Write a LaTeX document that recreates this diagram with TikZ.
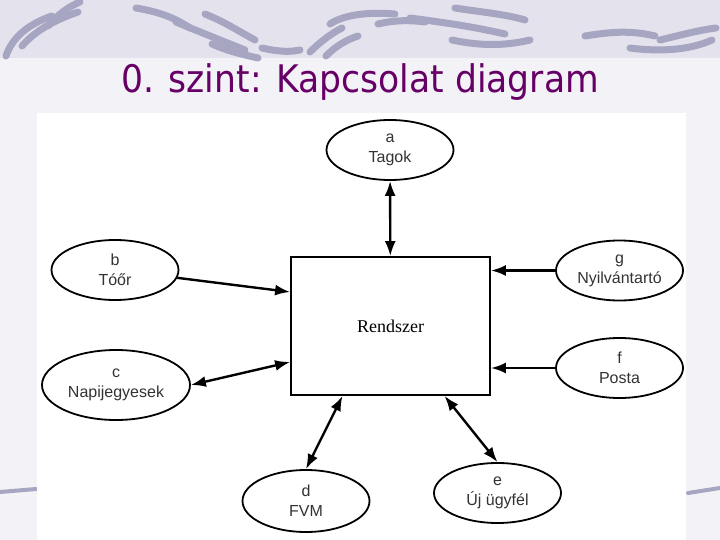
\documentclass[tikz,border=0pt]{standalone}
\usepackage{fontspec}
\setmainfont{Liberation Sans}
\newfontfamily\titlefont[FakeStretch=0.91]{DejaVu Sans}
\newfontfamily\boxfont{Liberation Serif}
\usetikzlibrary{shapes.geometric,arrows.meta}
\definecolor{slidebg}{HTML}{F3F2F7}
\definecolor{bandbg}{HTML}{E4E2EC}
\definecolor{swoosh}{HTML}{A7A6C2}
\definecolor{titlepurple}{HTML}{660066}

\begin{document}
\begin{tikzpicture}[x=1pt,y=-1pt,
	entity/.style={draw,ellipse,line width=1.8pt,inner sep=0pt,minimum width=127pt,minimum height=60pt,align=center,text=black!80,font=\fontsize{16}{20}\selectfont},
	flow/.style={line width=2.4pt,-{Latex[length=15pt,width=11pt]}},
	dflow/.style={line width=2.4pt,{Latex[length=15pt,width=11pt]}-{Latex[length=15pt,width=11pt]}},
	deco/.style={swoosh,line width=7pt,line cap=round}]
	\useasboundingbox (0,0) rectangle (720,540);
	\fill[slidebg] (0,0) rectangle (720,540);
	\fill[bandbg] (0,0) rectangle (720,58);

	\draw[deco] (6,56) .. controls (12,38) and (28,24) .. (52,16);
	\draw[deco] (22,46) .. controls (36,30) and (55,20) .. (78,12);
	\draw[deco] (48,26) .. controls (58,14) and (70,6) .. (80,2);
	\draw[deco] (136,8) .. controls (160,12) and (175,18) .. (190,28);
	\draw[deco] (176,22) .. controls (200,32) and (220,40) .. (245,50);
	\draw[deco] (205,14) .. controls (225,22) and (240,32) .. (255,40);
	\draw[deco] (212,44) .. controls (225,50) and (240,54) .. (258,58);
	\draw[deco] (262,48) .. controls (280,52) and (290,52) .. (300,50);
	\draw[deco] (310,52) .. controls (318,44) and (330,34) .. (342,28);
	\draw[deco] (326,56) .. controls (336,46) and (346,40) .. (358,36);
	\draw[deco] (330,24) .. controls (345,14) and (370,12) .. (395,14);
	\draw[deco] (378,24) .. controls (395,20) and (410,20) .. (425,22);
	\draw[deco] (410,18) .. controls (440,22) and (470,26) .. (505,34);
	\draw[deco] (455,8) .. controls (480,12) and (505,14) .. (525,20);
	\draw[deco] (452,40) .. controls (480,46) and (505,46) .. (530,40);
	\draw[deco] (585,36) .. controls (610,32) and (630,30) .. (655,36);
	\draw[deco] (630,48) .. controls (660,52) and (690,50) .. (712,40);
	\draw[deco] (660,40) .. controls (685,34) and (700,30) .. (716,28);
	\draw[deco,line width=4pt] (0,492) -- (36,489);
	\draw[deco,line width=4pt] (688,493) -- (720,488);

	\node[font=\titlefont\fontsize{38}{40}\selectfont,text=titlepurple] (title) at (360,82) {0. szint: Kapcsolat diagram};
	\fill[white] (37,113) rectangle (686,540);

	\node[draw,line width=1.8pt,minimum width=199pt,minimum height=138pt,font=\boxfont\fontsize{18}{20}\selectfont] (rendszer) at (390.5,326) {Rendszer};
	\node[entity] (a) at (390,150) {a\\Tagok};
	\node[entity] (b) at (115,270) {b\\Tóőr};
	\node[entity,minimum width=148pt,minimum height=70pt] (c) at (116,385) {c\\Napijegyesek};
	\node[entity] (g) at (619.5,270.5) {g\\Nyilvántartó};
	\node[entity] (f) at (619.5,368) {f\\Posta};
	\node[entity,minimum height=62pt] (d) at (306,501) {d\\FVM};
	\node[entity] (e) at (497.5,493) {e\\Új ügyfél};

	\draw[dflow] (a) -- (rendszer);
	\draw[flow] (b) -- ([yshift=34pt]rendszer.west);
	\draw[dflow] (c.east) -- ([yshift=-36pt]rendszer.west);
	\draw[flow] (g) -- (g -| rendszer.east);
	\draw[flow] (f) -- (f -| rendszer.east);
	\draw[dflow] (d.north) -- ([xshift=-48pt]rendszer.south);
	\draw[dflow] (e.north) -- ([xshift=54pt]rendszer.south);
\end{tikzpicture}
\end{document}
